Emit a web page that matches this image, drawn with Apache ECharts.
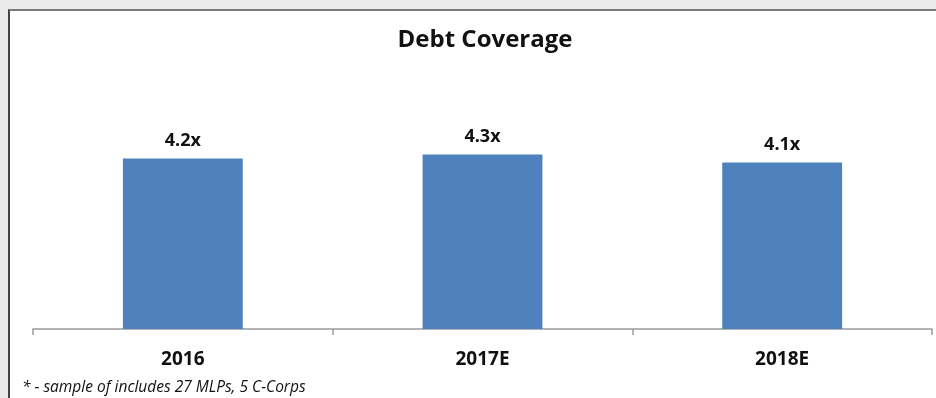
<!DOCTYPE html>
<html>
<head>
<meta charset="utf-8">
<script src="https://cdn.jsdelivr.net/npm/echarts@6/dist/echarts.min.js"></script>
<style>
  html, body { margin: 0; padding: 0; background: #ebebeb; }
  #frame {
    position: absolute; left: 8px; top: 9px; width: 928px; height: 389px;
    background: #ffffff; border-top: 2px solid #7a7a7a; border-left: 2px solid #444444;
    box-sizing: border-box;
  }
  #chart { position: absolute; left: 0; top: 0; width: 936px; height: 398px; }
</style>
</head>
<body>
<div id="frame"></div>
<div id="chart"></div>
<script>
// Debt coverage ratio by year (x)
const categories = ['2016', '2017E', '2018E'];
const coverage = [4.2, 4.3, 4.1];
const titleText = 'Debt Coverage';
const footnote = '* - sample of includes 27 MLPs, 5 C-Corps';

const FONT = '"Open Sans", Lato, sans-serif';

const chart = echarts.init(document.getElementById('chart'), null, { renderer: 'canvas' });
chart.setOption({
  backgroundColor: 'transparent',
  animation: false,
  title: {
    text: titleText,
    left: 480,
    top: 23,
    textAlign: 'center',
    textStyle: { fontFamily: FONT, fontWeight: 'bold', fontSize: 24, color: '#111' }
  },
  grid: { left: 33, right: 4, top: 126, bottom: 69, containLabel: false },
  xAxis: {
    type: 'category',
    data: categories,
    boundaryGap: true,
    axisLine: { lineStyle: { color: '#9a9a9a', width: 1.5 } },
    axisTick: { show: true, length: 6, lineStyle: { color: '#9a9a9a', width: 1.5 } },
    axisLabel: { margin: 21, fontFamily: FONT, fontWeight: 'bold', fontSize: 19, color: '#111' }
  },
  yAxis: {
    type: 'value', min: 0, max: 5, interval: 1,
    show: false,
    splitLine: { show: false }
  },
  series: [{
    type: 'bar',
    data: coverage,
    barWidth: '40%',
    itemStyle: { color: '#4f81bd' },
    label: {
      show: true,
      position: 'top',
      distance: 9,
      formatter: p => p.value.toFixed(1) + 'x',
      fontFamily: FONT, fontWeight: 'bold', fontSize: 18, color: '#111'
    }
  }],
  graphic: [{
    type: 'text',
    left: 22,
    top: 380,
    style: {
      text: footnote,
      fontFamily: FONT, fontStyle: 'italic', fontSize: 15.5, fill: '#111'
    }
  }]
});
</script>
</body>
</html>
